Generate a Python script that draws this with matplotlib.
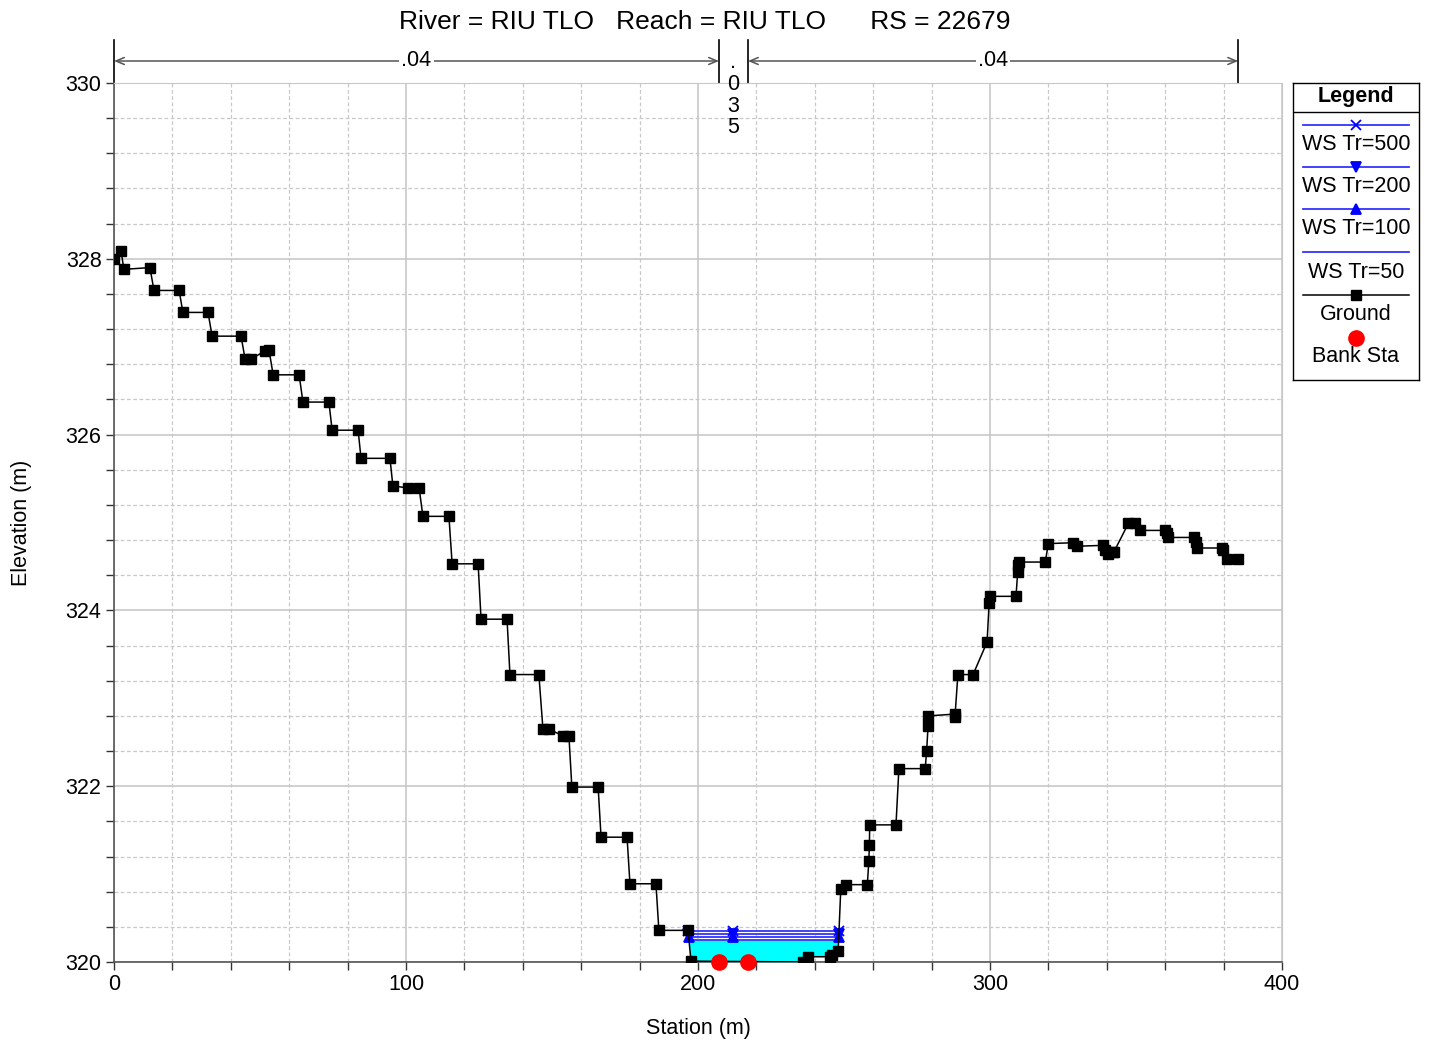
import numpy as np
import matplotlib
matplotlib.use("Agg")
import matplotlib.pyplot as plt
from matplotlib.transforms import blended_transform_factory

plt.rcParams['font.family'] = ['Liberation Sans', 'DejaVu Sans']

# ---------------- data ----------------
station = [0.0, 2.4, 3.4, 12.3, 13.7, 22.3, 23.6, 32.2, 33.6, 43.5, 44.9, 46.9, 51.7, 53.1,
           54.5, 63.4, 64.7, 73.6, 74.7, 83.6, 84.6, 94.5, 95.5, 100.7, 104.5, 105.8,
           114.7, 115.8, 124.7, 125.7, 134.6, 135.6, 145.5, 146.9, 149.0, 153.8, 155.8,
           156.8, 165.8, 166.8, 175.7, 176.7, 185.6, 186.6, 196.6, 197.6,
           236.1, 237.8, 245.2, 245.8, 248.0, 248.9, 250.7, 258.0, 258.5, 258.7,
           258.8, 267.8, 268.8, 277.8, 278.3, 278.8, 278.9, 287.9, 288.0, 289.0,
           294.2, 299.0, 299.7, 300.0, 308.9, 309.5, 309.7, 309.9, 318.9, 320.0,
           328.5, 329.9, 338.8, 339.4, 340.5, 342.2, 342.5, 347.4, 349.7, 351.4,
           359.9, 360.5, 361.1, 369.9, 370.4, 371.0, 379.3, 379.9, 381.1, 385.0]
elevation = [328.00, 328.09, 327.88, 327.90, 327.64, 327.64, 327.39, 327.39, 327.12, 327.12,
             326.86, 326.86, 326.95, 326.96, 326.68, 326.68, 326.37, 326.37, 326.05, 326.05,
             325.73, 325.73, 325.42, 325.39, 325.39, 325.07, 325.07, 324.53, 324.53,
             323.90, 323.90, 323.27, 323.27, 322.65, 322.65, 322.57, 322.57, 321.99,
             321.99, 321.42, 321.42, 320.89, 320.89, 320.36, 320.36, 320.01,
             320.00, 320.06, 320.06, 320.08, 320.13, 320.83, 320.88, 320.88, 321.15, 321.33,
             321.56, 321.56, 322.20, 322.20, 322.40, 322.69, 322.80, 322.82, 322.79, 323.27,
             323.27, 323.64, 324.08, 324.16, 324.16, 324.44, 324.52, 324.55, 324.55, 324.76,
             324.77, 324.73, 324.74, 324.69, 324.64, 324.66, 324.67, 324.99, 324.99, 324.91,
             324.91, 324.88, 324.83, 324.83, 324.78, 324.71, 324.71, 324.69, 324.58, 324.58]

bank_sta = [207.2, 217.1]
bank_elev = [320.00, 320.00]

ws_names = ["WS Tr=500", "WS Tr=200", "WS Tr=100", "WS Tr=50"]
ws_elev = [320.355, 320.32, 320.285, 320.25]
ws_markers = ["x", "v", "^", None]
ws_mid_marker_sta = 212.0

n_sta = [0.0, 207.2, 217.1, 385.0]
n_vals = [".04", ".035", ".04"]

title = "River = RIU TLO   Reach = RIU TLO      RS = 22679"

FS = 15.5

# ---------------- helpers ----------------
st = np.array(station)
el = np.array(elevation)


def crossings(level):
    """Left and right ground crossings of a water level around the channel."""
    idx_min = int(np.argmin(el))
    xl = st[0]
    for i in range(idx_min, 0, -1):
        if el[i - 1] >= level >= el[i]:
            x0, x1, y0, y1 = st[i - 1], st[i], el[i - 1], el[i]
            xl = x0 + (level - y0) / (y1 - y0) * (x1 - x0) if y1 != y0 else x0
            break
    xr = st[-1]
    for i in range(idx_min, len(st) - 1):
        if el[i] <= level <= el[i + 1]:
            x0, x1, y0, y1 = st[i], st[i + 1], el[i], el[i + 1]
            xr = x0 + (level - y0) / (y1 - y0) * (x1 - x0) if y1 != y0 else x0
            break
    return xl, xr


# ---------------- figure ----------------
W, H = 1430, 1042
fig = plt.figure(figsize=(W / 100, H / 100), dpi=100)
ax = fig.add_axes([114 / W, 1 - 962 / H, (1282 - 114) / W, (962 - 83) / H])

ax.set_xlim(0, 400)
ax.set_ylim(320, 330)
ax.set_xticks([0, 100, 200, 300, 400])
ax.set_yticks([320, 322, 324, 326, 328, 330])
ax.set_xticks(np.arange(0, 401, 20), minor=True)
ax.set_yticks(np.arange(320, 330.01, 0.4), minor=True)
ax.grid(which='major', color='#c8c8c8', linestyle='-', linewidth=1.2)
ax.grid(which='minor', color='#c8c8c8', linestyle=(0, (3, 2)), linewidth=0.9)
ax.set_axisbelow(True)
ax.tick_params(which='major', direction='out', length=6, width=1, color='#333333',
               labelsize=FS, pad=3)
ax.tick_params(which='minor', direction='out', length=6, width=1, color='#333333')
for s in ['top', 'right']:
    ax.spines[s].set_color('#c8c8c8')
for s in ['left', 'bottom']:
    ax.spines[s].set_color('#555555')
    ax.spines[s].set_linewidth(1.2)

ax.set_xlabel("Station (m)", fontsize=FS, labelpad=16)
ax.set_ylabel("Elevation (m)", fontsize=FS, labelpad=24)

# water fill under lowest WS
lvl = ws_elev[-1]
xl, xr = crossings(lvl)
xx = np.linspace(xl, xr, 400)
gg = np.interp(xx, st, el)
ax.fill_between(xx, gg, lvl, where=gg <= lvl, color='#00ffff', zorder=2, linewidth=0)

# WS lines
for name, lev, mk in zip(ws_names, ws_elev, ws_markers):
    a, b = crossings(lev)
    ax.plot([a, b], [lev, lev], color='#3333ff', linewidth=1.3, zorder=3)
    if mk is not None:
        ax.plot([a, ws_mid_marker_sta, b], [lev, lev, lev], linestyle='none', marker=mk,
                color='blue', markersize=7, markeredgewidth=1.3, zorder=4)

# ground
ax.plot(station, elevation, color='black', linewidth=1.1, marker='s', markersize=6.5,
        zorder=5)

# bank stations
ax.plot(bank_sta, bank_elev, linestyle='none', marker='o', color='red', markersize=11,
        zorder=6, clip_on=False)

# ---------------- Manning's n annotations ----------------
tr = blended_transform_factory(ax.transData, ax.transAxes)
y_arrow = (962 - 61) / 879
y_top = (962 - 40) / 879
for xs in n_sta:
    ax.plot([xs, xs], [1.0, y_top], color='black', linewidth=1.2, transform=tr,
            clip_on=False)
for i, val in enumerate(n_vals):
    a, b = n_sta[i], n_sta[i + 1]
    if b - a > 30:
        ax.annotate('', xy=(a, y_arrow), xytext=(b, y_arrow), xycoords=tr, textcoords=tr,
                    arrowprops=dict(arrowstyle='<->, head_length=0.6, head_width=0.25',
                                    color='#555555', lw=1.1, shrinkA=0, shrinkB=0))
        ax.text((a + b) / 2, y_arrow, val, transform=tr, ha='center', va='center',
                fontsize=FS, bbox=dict(facecolor='white', edgecolor='none', pad=1.5))
    else:
        xm = (a + b) / 2
        for k, ch in enumerate(val):
            yy = (962 - (63 + 21.5 * k)) / 879
            ax.text(xm, yy, ch, transform=tr, ha='center', va='center', fontsize=FS)

fig.text(705 / W, 1 - 22 / H, title, ha='center', va='center', fontsize=19)

# ---------------- legend ----------------
lx0, ly0, lw, lh = 1293, 83, 126, 297
lax = fig.add_axes([lx0 / W, 1 - (ly0 + lh) / H, lw / W, lh / H])
lax.set_xlim(0, lw)
lax.set_ylim(lh, 0)
lax.set_xticks([])
lax.set_yticks([])
for s in lax.spines.values():
    s.set_color('black')
    s.set_linewidth(1)
lax.text(lw / 2, 13, "Legend", ha='center', va='center', fontsize=FS, fontweight='bold')
lax.plot([0, lw], [29, 29], color='black', linewidth=1)
cx = lw / 2
rows = [(42, 61), (84, 103), (126, 146), (169, 189)]
for (yl, yt), name, mk in zip(rows, ws_names, ws_markers):
    lax.plot([10, 116], [yl, yl], color='#3333ff', linewidth=1.3)
    if mk is not None:
        lax.plot([cx], [yl], marker=mk, color='blue', markersize=7, markeredgewidth=1.3,
                 linestyle='none')
    lax.text(cx, yt, name, ha='center', va='center', fontsize=FS)
lax.plot([10, 116], [212, 212], color='black', linewidth=1.1)
lax.plot([cx], [212], marker='s', color='black', markersize=6.5, linestyle='none')
lax.text(cx, 231, "Ground", ha='center', va='center', fontsize=FS)
lax.plot([cx], [255], marker='o', color='red', markersize=11, linestyle='none')
lax.text(cx, 274, "Bank Sta", ha='center', va='center', fontsize=FS)

fig.savefig("out.png", dpi=100)
